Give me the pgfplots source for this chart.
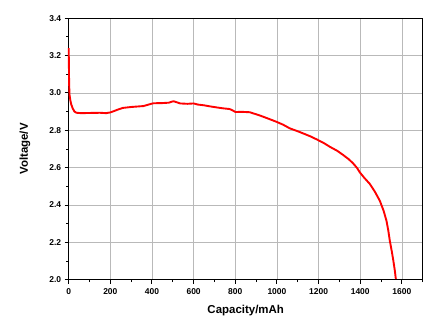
\documentclass[border=0pt]{standalone}
\usepackage{pgfplots}
\pgfplotsset{compat=1.18}
\usepackage{fontspec}
\setmainfont{Liberation Sans}
\begin{document}
\begin{tikzpicture}[x=1bp,y=1bp]
\path[use as bounding box] (-68.7bp,-47.3bp) rectangle (363.3bp,279.7bp);
\begin{axis}[
  at={(0,0)}, anchor=south west,
  scale only axis, width=354bp, height=261.4bp,
  xmin=0, xmax=1700, ymin=2.0, ymax=3.4,
  xtick={0,200,...,1600}, ytick={2.0,2.2,...,3.4},
  minor xtick={100,300,...,1700}, minor ytick={2.1,2.3,...,3.3},
  yticklabel style={/pgf/number format/.cd,fixed,fixed zerofill,precision=1},
  xticklabel style={/pgf/number format/1000 sep={}, yshift=-1bp},
  /pgf/number format/assume math mode=true,
  ticklabel style={font=\bfseries\fontsize{8.5}{9}\selectfont},
  axis x line*=bottom, axis y line*=left,
  axis line style={black, line width=1.2pt},
  tick style={black, line width=1pt},
  tick align=outside,
  major tick length=4bp, minor tick length=2.5bp,
  grid=major, major grid style={gray!55, line width=0.6pt},
  xlabel={\bfseries Capacity/mAh}, ylabel={\bfseries Voltage/V},
  label style={font=\bfseries\fontsize{11.5}{12}\selectfont},
  xlabel style={at={(axis description cs:0.5,0)}, anchor=center, yshift=-31bp},
  ylabel style={at={(axis description cs:0,0.5)}, anchor=center, yshift=43.7bp},
  clip=false,
]
\draw[black, line width=1.2pt] (rel axis cs:0,1) -- (rel axis cs:1,1) -- (rel axis cs:1,0);
\addplot[red, line width=1.9pt, line join=round] coordinates {
(0,3.24) (1,3.15) (2,3.05) (4,2.99) (8,2.96) (12,2.94) (19,2.918) (28,2.90) (38,2.894)
(60,2.892) (100,2.893) (150,2.894) (180,2.892) (200,2.896) (215,2.902) (231,2.909)
(260,2.920) (300,2.925) (359,2.930) (390,2.940) (407,2.945) (450,2.946) (480,2.948)
(503,2.956) (520,2.950) (535,2.944) (570,2.942) (600,2.944) (620,2.938) (650,2.934)
(680,2.928) (709,2.923) (740,2.918) (773,2.914) (790,2.905) (801,2.898) (830,2.899)
(869,2.897) (917,2.880) (960,2.862) (997,2.846) (1030,2.830) (1061,2.811) (1095,2.797)
(1125,2.784) (1160,2.768) (1190,2.752) (1225,2.732) (1254,2.712) (1290,2.690)
(1318,2.668) (1345,2.645) (1366,2.623) (1385,2.598) (1398,2.575) (1420,2.545)
(1446,2.513) (1470,2.472) (1494,2.423) (1512,2.370) (1526,2.316) (1535,2.262)
(1542,2.209) (1551,2.155) (1559,2.102) (1566,2.050) (1571,2.004)
};
\end{axis}
\end{tikzpicture}
\end{document}
